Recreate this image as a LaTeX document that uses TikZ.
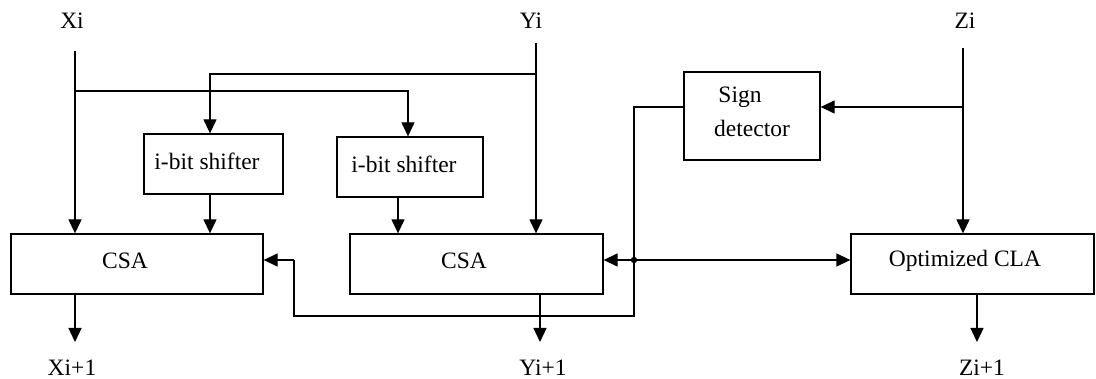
\documentclass[tikz,border=0pt]{standalone}
\usepackage{fontspec}
\setmainfont{Liberation Serif}
\usetikzlibrary{arrows.meta,calc}
\begin{document}
\begin{tikzpicture}[x=1pt,y=-1pt,
  every node/.style={font=\fontsize{23.5}{28}\selectfont, inner sep=0pt},
  wire/.style={line width=1.3pt, line join=miter},
  arr/.style={wire, -{Triangle[length=14pt,width=13pt]}},
  blk/.style={draw, line width=1.3pt, rectangle, inner sep=0pt}]
\useasboundingbox (0,0) rectangle (1096,379);
% blocks
\node[blk, minimum width=139pt, minimum height=60pt] (sh1) at (213.5,164) {};
\node (sh1t) at (207,161) {i-bit shifter};
\node[blk, minimum width=146pt, minimum height=60pt] (sh2) at (410,167) {};
\node (sh2t) at (404,164) {i-bit shifter};
\node[blk, minimum width=252pt, minimum height=60pt] (csa1) at (137,264) {};
\node (csa1t) at (125,261) {CSA};
\node[blk, minimum width=253pt, minimum height=60pt] (csa2) at (476.5,264) {};
\node (csa2t) at (464,261) {CSA};
\node[blk, minimum width=136pt, minimum height=88pt] (sd) at (752,116) {};
\node (sdt1) at (740,97) {Sign};
\node (sdt2) at (752,128) {detector};
\node[blk, minimum width=243pt, minimum height=60pt] (cla) at (972.5,264) {};
\node (clat) at (965,261) {Optimized CLA};
% labels
\node (xi) at (72,21) {Xi};
\node (yi) at (531,21) {Yi};
\node (zi) at (965,21) {Zi};
\node (xo) at (72,368) {Xi+1};
\node (yo) at (543,368) {Yi+1};
\node (zo) at (982,368) {Zi+1};
% coordinates
\coordinate (xtop) at (75,51);
\coordinate (ytop) at (536,43);
\coordinate (ztop) at (963,48);
\coordinate (xbr) at (75,91);
\coordinate (ybr) at (536,74);
\coordinate (zbr) at (963,107);
\coordinate (jn) at (634,260);
\coordinate (fb) at (294,316);
% inputs
\draw[arr] (xtop) -- (xtop |- csa1.north);
\draw[arr] (ytop) -- (ytop |- csa2.north);
\draw[arr] (ztop) -- (ztop |- cla.north);
\draw[arr] (xbr) -- (408,91) -- (408,91 |- sh2.north);
\draw[arr] (ybr) -- (210,74) -- (210,74 |- sh1.north);
\draw[arr] (zbr) -- (zbr -| sd.east);
% shifter to CSA
\draw[arr] (210,194) -- (210,194 |- csa1.north);
\draw[arr] (398,197) -- (398,197 |- csa2.north);
% outputs
\draw[arr] (75,294) -- (75,342);
\draw[arr] (540,294) -- (540,342);
\draw[arr] (977,294) -- (977,342);
% sign detector network
\draw[wire] (sd.west |- zbr) -- (jn |- zbr) -- (jn) -- (jn |- fb) -- (fb) -- (fb |- jn);
\draw[arr] (fb |- jn) -- (jn -| csa1.east);
\draw[arr] (jn) -- (jn -| csa2.east);
\draw[arr] (jn) -- (jn -| cla.west);
\fill (jn) circle (3.2pt);
\end{tikzpicture}
\end{document}
